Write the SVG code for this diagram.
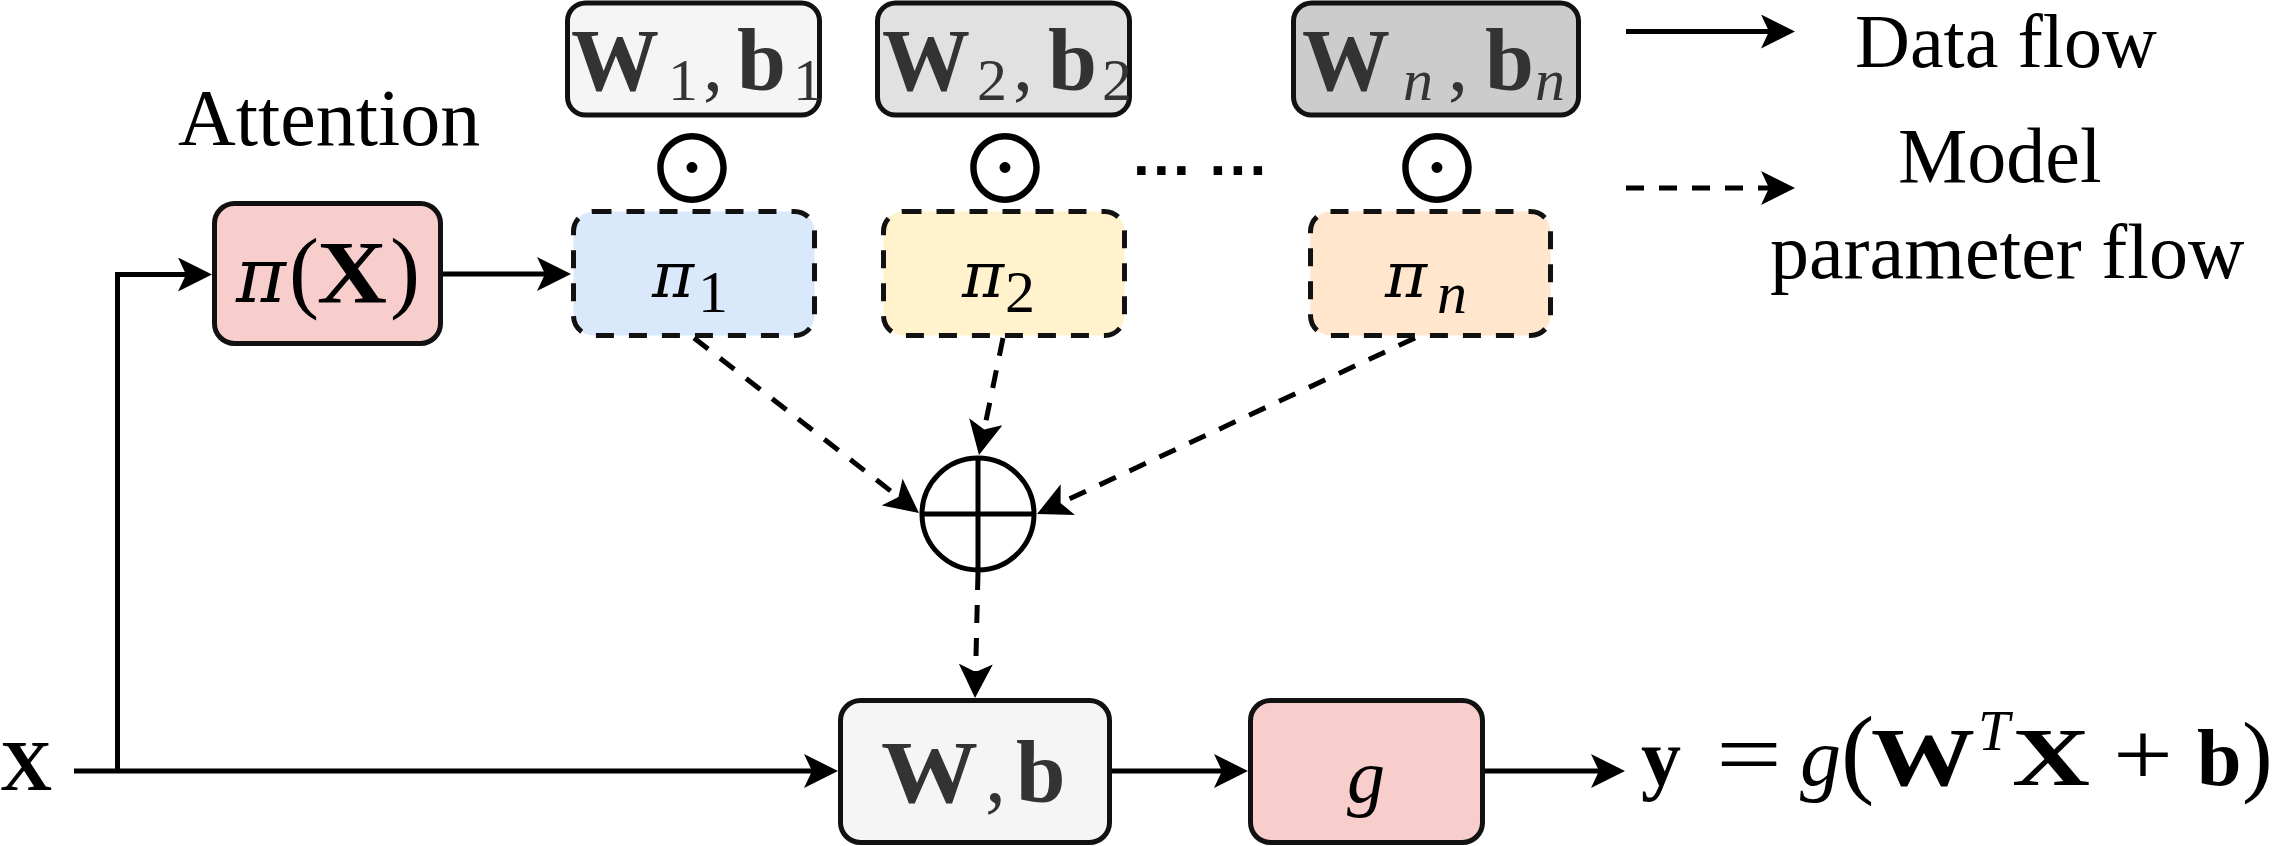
<svg xmlns="http://www.w3.org/2000/svg" width="2273" height="846" viewBox="0 0 2273 846">
<defs>
<style>
.box{stroke:#111;stroke-width:5}
.dash{stroke-dasharray:18 15}
.edge{fill:none;stroke:#000;stroke-width:5}
.ser{font-family:"Liberation Serif","Times New Roman",serif}
.bd{font-weight:bold}
.it{font-style:italic}
.pi{font-family:"DejaVu Serif",serif;font-style:italic}
.wt{fill:#333}
.sym{font-family:"Noto Sans CJK SC","DejaVu Sans",sans-serif;font-size:94px;text-anchor:middle}
</style>
<marker id="arr" markerUnits="userSpaceOnUse" viewBox="0 0 34 34" refX="22" refY="17" markerWidth="34" markerHeight="34" orient="auto">
<path d="M0,0 L34,17 L0,34 L8,17 Z" fill="#000"/>
</marker>
</defs>
<rect width="2273" height="846" fill="#fff"/>

<g id="connectors">
<path class="edge" d="M74,771 H826" marker-end="url(#arr)"/>
<path class="edge" d="M117.5,771 V274.5 H200" marker-end="url(#arr)"/>
<path class="edge" d="M443,274 H559" marker-end="url(#arr)"/>
<path class="edge" d="M1112,771 H1236" marker-end="url(#arr)"/>
<path class="edge" d="M1485,771 H1613" marker-end="url(#arr)"/>
<path class="edge dash" d="M694,338 L909.5,505.6" marker-end="url(#arr)"/>
<path class="edge dash" d="M1003,338 L981.4,443.2" marker-end="url(#arr)"/>
<path class="edge dash" d="M1415,338 L1047.9,508.9" marker-end="url(#arr)"/>
<path class="edge dash" d="M978,572 L975.3,686" marker-end="url(#arr)"/>
</g>

<g id="legend">
<path class="edge" d="M1626,31.5 H1783" marker-end="url(#arr)"/>
<path class="edge dash" d="M1626,188 H1783" marker-end="url(#arr)"/>
<text class="ser" x="1855" y="67" font-size="76">Data flow</text>
<text class="ser" x="1898" y="182" font-size="78">Model</text>
<text class="ser" x="1770" y="278" font-size="78">parameter flow</text>
</g>

<g id="attention-label">
<text class="ser" x="178" y="145" font-size="80">Attention</text>
</g>

<g id="node-pix">
<rect class="box" x="214.5" y="203.5" width="226" height="140" rx="20" fill="#f8cecc"/>
<text class="pi" x="236" y="302" font-size="76">π</text>
<text class="ser" x="289" y="301" font-size="90">(</text>
<text class="ser bd" x="317" y="302" font-size="88" textLength="70" lengthAdjust="spacingAndGlyphs">X</text>
<text class="ser" x="390" y="301" font-size="90">)</text>
</g>

<g id="node-w1">
<rect class="box" x="567.5" y="3" width="252" height="112" rx="18" fill="#f5f5f5"/>
<text class="ser wt" y="90"><tspan class="bd" x="571" font-size="88">W</tspan><tspan x="668" y="100" font-size="60">1</tspan><tspan x="703" y="90" font-size="80">,</tspan><tspan class="bd" x="737" y="90" font-size="88">b</tspan><tspan x="793" y="100" font-size="60">1</tspan></text>
</g>
<g id="node-w2">
<rect class="box" x="877.5" y="3" width="252" height="112" rx="18" fill="#e1e1e1"/>
<text class="ser wt" y="90"><tspan class="bd" x="882" font-size="88">W</tspan><tspan x="977" y="100" font-size="60">2</tspan><tspan x="1013" y="90" font-size="80">,</tspan><tspan class="bd" x="1048" y="90" font-size="88">b</tspan><tspan x="1102" y="100" font-size="60">2</tspan></text>
</g>
<g id="node-wn">
<rect class="box" x="1293.5" y="3" width="285" height="112" rx="18" fill="#cccccc"/>
<text class="ser wt" y="90"><tspan class="bd" x="1302" font-size="88">W</tspan><tspan class="it" x="1403" y="100" font-size="60">n</tspan><tspan x="1448" y="90" font-size="80">,</tspan><tspan class="bd" x="1485" y="90" font-size="88">b</tspan><tspan class="it" x="1535" y="100" font-size="60">n</tspan></text>
</g>

<g id="odot-1"><text class="sym" x="692" y="204">⊙</text></g>
<g id="odot-2"><text class="sym" x="1005" y="204">⊙</text></g>
<g id="odot-n"><text class="sym" x="1437" y="204">⊙</text></g>

<g id="ellipsis">
<text x="1133" y="190" font-family="Liberation Sans, Arial, sans-serif" font-size="60" font-weight="bold">··· ···</text>
</g>

<g id="node-pi1">
<rect class="box dash" x="573.5" y="211.5" width="241" height="124" rx="20" fill="#dae8fc"/>
<text><tspan class="pi" x="652" y="297" font-size="64">π</tspan><tspan class="ser" x="698" y="312" font-size="60">1</tspan></text>
</g>
<g id="node-pi2">
<rect class="box dash" x="883.5" y="211.5" width="241" height="124" rx="20" fill="#fff2cc"/>
<text><tspan class="pi" x="962" y="297" font-size="64">π</tspan><tspan class="ser" x="1005" y="312" font-size="60">2</tspan></text>
</g>
<g id="node-pin">
<rect class="box dash" x="1310.5" y="211.5" width="240" height="124" rx="20" fill="#ffe6cc"/>
<text><tspan class="pi" x="1385" y="297" font-size="64">π</tspan><tspan class="ser it" x="1437" y="313" font-size="60">n</tspan></text>
</g>

<g id="node-sum">
<circle cx="978" cy="514" r="56" fill="#fff" stroke="#000" stroke-width="5"/>
<path d="M922,514 H1034 M978,458 V570" stroke="#000" stroke-width="5"/>
</g>

<g id="node-x">
<text class="ser bd" x="0" y="790" font-size="72">X</text>
</g>

<g id="node-wb">
<rect class="box" x="840.5" y="700.5" width="269" height="142" rx="20" fill="#f5f5f5"/>
<text class="ser bd wt" x="881" y="802" font-size="89" textLength="97" lengthAdjust="spacingAndGlyphs">W</text>
<text class="ser wt" x="985" y="802" font-size="84">,</text>
<text class="ser bd wt" x="1016" y="802" font-size="89">b</text>
</g>

<g id="node-g">
<rect class="box" x="1250.5" y="700.5" width="232" height="142" rx="20" fill="#f8cecc" stroke="#222"/>
<text class="ser it" x="1347" y="802" font-size="76">g</text>
</g>

<g id="output">
<text class="ser bd" x="1641" y="785" font-size="80">y</text>
<text class="ser" x="1716" y="785" font-size="90" textLength="66" lengthAdjust="spacingAndGlyphs">=</text>
<text class="ser it" x="1800" y="785" font-size="82">g</text>
<text class="ser" x="1841" y="785" font-size="100">(</text>
<text class="ser bd" x="1871" y="785" font-size="83" textLength="104" lengthAdjust="spacingAndGlyphs">W</text>
<text class="ser it" x="1978" y="750" font-size="57">T</text>
<text class="ser bd" x="2012" y="785" font-size="83" textLength="78" lengthAdjust="spacingAndGlyphs">X</text>
<text class="ser" x="2113" y="785" font-size="90" textLength="60" lengthAdjust="spacingAndGlyphs">+</text>
<text class="ser bd" x="2197" y="785" font-size="80">b</text>
<text class="ser" x="2242" y="785" font-size="92">)</text>
</g>
</svg>
